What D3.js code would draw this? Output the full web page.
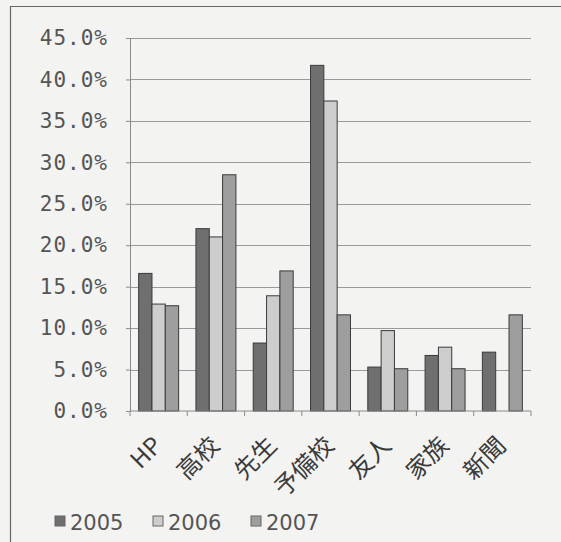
<!DOCTYPE html>
<html>
<head>
<meta charset="utf-8">
<script src="https://cdn.jsdelivr.net/npm/d3@7"></script>
<style>
  html, body { margin: 0; padding: 0; background: #f3f3f2; }
  svg { display: block; }
</style>
</head>
<body>
<div id="chart"></div>
<script>
// data
const categories = ['HP', '高校', '先生', '予備校', '友人', '家族', '新聞'];
const years = ['2005', '2006', '2007'];
const values2005 = [16.6, 22.0, 8.2, 41.7, 5.3, 6.7, 7.1];
const values2006 = [12.9, 21.0, 13.9, 37.4, 9.7, 7.7, 0];
const values2007 = [12.7, 28.5, 16.9, 11.6, 5.1, 5.1, 11.6];
const yTicks = [0, 5, 10, 15, 20, 25, 30, 35, 40, 45];

const series = [values2005, values2006, values2007];
const colors = ['#6f6f6f', '#cdcdcd', '#9e9e9e'];

const width = 561;
const height = 542;
const margin = {top: 38, right: 30, bottom: 131, left: 130};

const svg = d3.select('div#chart').append('svg').attr('width', width).attr('height', height);

// frame of the chart area (right and bottom edges run off the scan)
svg.append('path')
  .attr('d', `M10.5,${height} V6.5 H${width}`)
  .attr('fill', 'none').attr('stroke', '#666').attr('stroke-width', 1.2);

const x = d3.scaleBand().domain(categories).range([margin.left, width - margin.right]);
const xs = d3.scaleBand().domain(years).range([0, x.bandwidth()]).paddingOuter(0.65);
const y = d3.scaleLinear().domain([0, 45]).range([height - margin.bottom, margin.top]);

// gridlines
svg.append('g').selectAll('line').data(yTicks.filter(d => d > 0)).join('line')
  .attr('x1', margin.left).attr('x2', width - margin.right)
  .attr('y1', d => Math.round(y(d)) + 0.5).attr('y2', d => Math.round(y(d)) + 0.5)
  .attr('stroke', '#9a9a9a').attr('stroke-width', 1);

// bars
const groups = svg.append('g').selectAll('g').data(categories).join('g')
  .attr('transform', d => `translate(${x(d)},0)`);

groups.selectAll('rect')
  .data((c, i) => series.map((s, k) => ({year: years[k], value: s[i], k})).filter(d => d.value > 0))
  .join('rect')
  .attr('x', d => xs(d.year))
  .attr('y', d => y(d.value))
  .attr('width', xs.bandwidth())
  .attr('height', d => y(0) - y(d.value))
  .attr('fill', d => colors[d.k])
  .attr('stroke', '#3a3a3a').attr('stroke-width', 1);

// y axis
const yAxis = d3.axisLeft(y).tickValues(yTicks).tickSize(4).tickPadding(18)
  .tickFormat(d => d3.format('.1f')(d) + '%');
const yAxisGroup = svg.append('g').attr('transform', `translate(${margin.left},0)`).call(yAxis);
yAxisGroup.select('.domain').attr('stroke', '#8a8a8a');
yAxisGroup.selectAll('.tick line').attr('stroke', '#8a8a8a');
yAxisGroup.selectAll('.tick text')
  .attr('font-family', '"DejaVu Sans Mono", monospace')
  .attr('font-size', 21).attr('fill', '#555').attr('letter-spacing', 1);

// x axis
const xAxisGroup = svg.append('g').attr('transform', `translate(0,${y(0)})`);
xAxisGroup.append('line')
  .attr('x1', margin.left).attr('x2', width - margin.right)
  .attr('stroke', '#8a8a8a');
xAxisGroup.selectAll('line.tk').data(d3.range(categories.length + 1)).join('line')
  .attr('class', 'tk')
  .attr('x1', i => margin.left + i * x.step()).attr('x2', i => margin.left + i * x.step())
  .attr('y1', 0).attr('y2', 5)
  .attr('stroke', '#8a8a8a');

svg.append('g').selectAll('text').data(categories).join('text')
  .attr('transform', d => `translate(${x(d) + x.bandwidth() / 2 + 5},${y(0) + 36}) rotate(-45)`)
  .attr('text-anchor', 'end')
  .attr('font-family', '"Noto Sans CJK JP", sans-serif')
  .attr('font-size', 24).attr('fill', '#3a3a3a')
  .text(d => d);

// legend
const legendX = [55, 153, 251];
const legend = svg.append('g').selectAll('g').data(years).join('g')
  .attr('transform', (d, i) => `translate(${legendX[i]},516)`);
legend.append('rect')
  .attr('width', 10).attr('height', 10)
  .attr('fill', (d, i) => colors[i]).attr('stroke', '#666');
legend.append('text')
  .attr('x', 15).attr('y', 14)
  .attr('font-family', '"DejaVu Sans", sans-serif')
  .attr('font-size', 21).attr('fill', '#555')
  .text(d => d);
</script>
</body>
</html>
